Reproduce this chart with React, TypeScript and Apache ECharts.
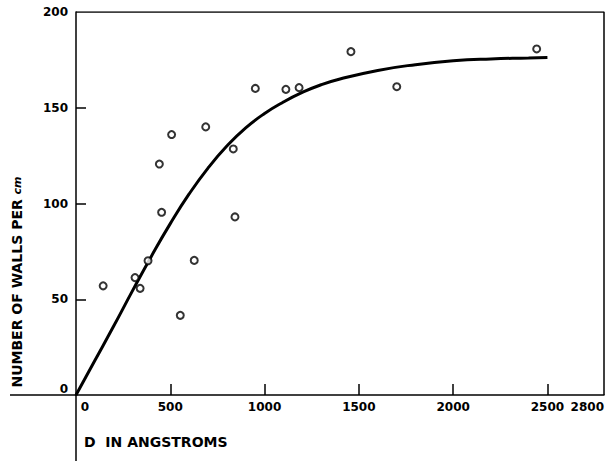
import React, { useEffect, useRef } from "react";
import * as echarts from "echarts";

const sampleD = [144, 313, 340, 382, 442, 454, 507, 553, 627, 688, 834, 843, 951, 1113, 1183, 1458, 1701, 2443];
const sampleWalls = [57, 61.3, 55.7, 70.1, 120.6, 95.4, 136, 41.6, 70.3, 140, 128.5, 93, 160.1, 159.6, 160.5, 179.3, 161, 180.7];

const curveD = [0, 100, 200, 300, 400, 500, 600, 700, 800, 900, 1000, 1100, 1200, 1300, 1400, 1600, 1800, 2000, 2200, 2400, 2500];
const curveWalls = [0, 18, 36, 54.5, 72.5, 89.5, 105, 118.5, 130, 139.5, 147, 153, 158, 162, 165, 169.5, 172.5, 174.5, 175.5, 176, 176.3];

const xTicks = [500, 1000, 1500, 2000, 2500];
const xLabels = [0, 500, 1000, 1500, 2000, 2500, 2800];
const yTicks = [50, 100, 150];
const yLabels = [0, 50, 100, 150, 200];

const FONT = "DejaVu Sans";

export default function App() {
  const ref = useRef<HTMLDivElement>(null);
  useEffect(() => {
    if (!ref.current) return;
    const chart = echarts.init(ref.current, null, { renderer: "svg" });
    const scatterData = sampleD.map((d, i) => [d, sampleWalls[i]]);
    const curveData = curveD.map((d, i) => [d, curveWalls[i]]);
    const axisStyle = { color: "#000", width: 1.5 };
    chart.setOption({
      animation: false,
      backgroundColor: "#ffffff",
      grid: { left: 76, right: 2, top: 12, bottom: 66, containLabel: false, outerBoundsMode: "none" },
      xAxis: {
        type: "value",
        min: 0,
        max: 2800,
        splitLine: { show: false },
        axisLine: { show: true, onZero: false, lineStyle: axisStyle },
        axisTick: {
          show: true,
          inside: true,
          length: 11,
          customValues: xTicks,
          lineStyle: axisStyle,
        },
        axisLabel: {
          customValues: xLabels,
          margin: 6,
          color: "#000",
          fontFamily: FONT,
          fontWeight: "bold",
          fontSize: 12,
          alignMaxLabel: "right",
          formatter: (v: number) => (v === 0 ? "{z|0}" : String(v)),
          rich: {
            z: { padding: [0, 0, 0, 18], fontFamily: FONT, fontWeight: "bold", fontSize: 12, color: "#000" },
          },
        },
      },
      yAxis: {
        type: "value",
        min: 0,
        max: 200,
        splitLine: { show: false },
        axisLine: { show: true, onZero: false, lineStyle: axisStyle },
        axisTick: {
          show: true,
          inside: true,
          length: 10,
          customValues: yTicks,
          lineStyle: axisStyle,
        },
        axisLabel: {
          customValues: yLabels,
          margin: 8,
          color: "#000",
          fontFamily: FONT,
          fontWeight: "bold",
          fontSize: 12,
          formatter: (v: number) => (v === 0 ? "{z|0}" : String(v)),
          rich: {
            z: { padding: [0, 0, 12, 0], fontFamily: FONT, fontWeight: "bold", fontSize: 12, color: "#000" },
          },
        },
      },
      series: [
        {
          type: "line",
          data: [[0, 200], [2800, 200], [2800, 0]],
          symbol: "none",
          silent: true,
          lineStyle: axisStyle,
          z: 1,
        },
        {
          type: "line",
          data: curveData,
          smooth: true,
          symbol: "none",
          lineStyle: { color: "#000", width: 3 },
          z: 2,
        },
        {
          type: "scatter",
          data: scatterData,
          symbol: "circle",
          symbolSize: 7,
          itemStyle: { color: "#fff", borderColor: "#000", borderWidth: 2 },
          z: 3,
        },
      ],
    });
    const origin = chart.convertToPixel({ gridIndex: 0 }, [0, 0]) as number[];
    const leftEnd = chart.convertToPixel({ gridIndex: 0 }, [-350, 0]) as number[];
    const bottomEnd = chart.convertToPixel({ gridIndex: 0 }, [0, -36]) as number[];
    chart.setOption({
      graphic: [
        {
          type: "line",
          shape: { x1: leftEnd[0], y1: origin[1], x2: origin[0], y2: origin[1] },
          style: { stroke: "#000", lineWidth: 1.5 },
          silent: true,
        },
        {
          type: "line",
          shape: { x1: origin[0], y1: origin[1], x2: origin[0], y2: bottomEnd[1] },
          style: { stroke: "#000", lineWidth: 1.5 },
          silent: true,
        },
        {
          type: "text",
          x: 17,
          y: 282,
          rotation: Math.PI / 2,
          style: {
            text: "NUMBER OF WALLS PER {c|cm}",
            fill: "#000",
            font: `bold 14px "${FONT}"`,
            align: "center",
            verticalAlign: "middle",
            rich: {
              c: { fontFamily: FONT, fontStyle: "italic", fontWeight: "bold", fontSize: 11, fill: "#000" },
            },
          },
        },
        {
          type: "text",
          x: 84,
          y: 442,
          style: {
            text: "D  IN ANGSTROMS",
            fill: "#000",
            font: `bold 14px "${FONT}"`,
            align: "left",
            verticalAlign: "middle",
          },
        },
      ],
    });
    return () => chart.dispose();
  }, []);
  return (
    <div
      ref={ref}
      style={{ position: "fixed", left: 0, top: 0, width: 606, height: 461 }}
    />
  );
}
